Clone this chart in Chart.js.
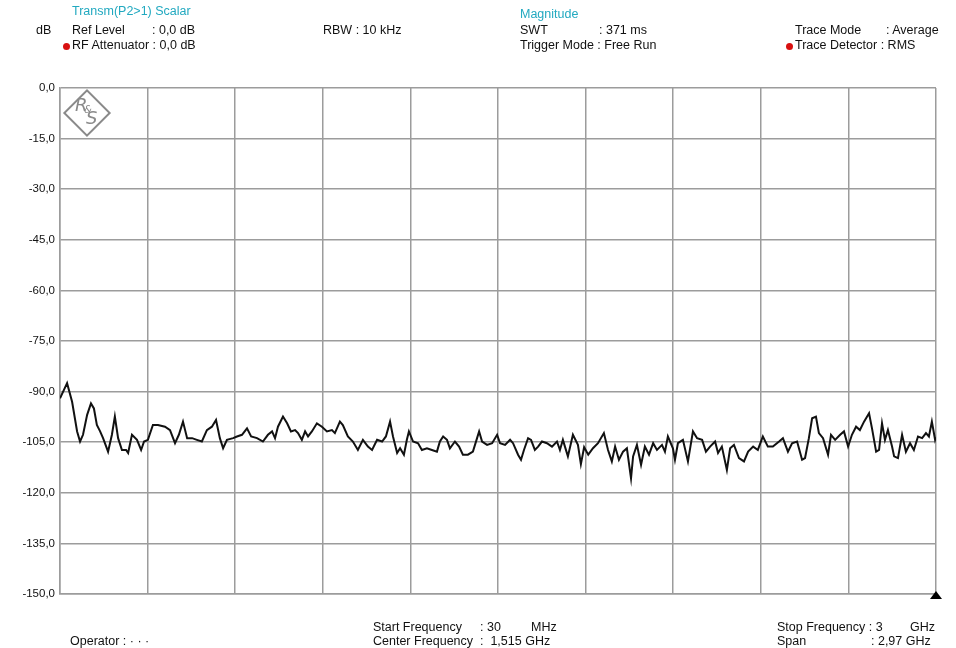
<!DOCTYPE html>
<html>
<head>
<meta charset="utf-8">
<script src="https://cdn.jsdelivr.net/npm/chart.js@4"></script>
<style>
  body { margin: 0; background: #fff; }
  #wrap { position: relative; width: 956px; height: 648px; font-family: "Liberation Sans", Arial, sans-serif; font-size: 12.5px; color: #111; }
  #wrap canvas { position: absolute; left: 0; top: 0; }
  .t { position: absolute; white-space: pre; line-height: 15px; }
  .cy { color: #22a9c0; }
  .dot { position: absolute; width: 7px; height: 7px; border-radius: 50%; background: #d81010; }
  #logo { position: absolute; left: 70px; top: 96px; width: 30px; height: 30px; border: 2px solid #8a8a8a; transform: rotate(45deg); }
  .lg { position: absolute; font: italic 18px "DejaVu Sans", sans-serif; color: #8a8a8a; line-height: 18px; }
  #marker { position: absolute; left: 930px; top: 591px; width: 0; height: 0; border-left: 6px solid transparent; border-right: 6px solid transparent; border-bottom: 8px solid #000; }
</style>
</head>
<body>
<div id="wrap">
  <canvas id="myChart" width="956" height="648"></canvas>

  <div class="t" style="left:36px;top:23px;">dB</div>
  <div class="t cy" style="left:72px;top:4px;">Transm(P2&gt;1) Scalar</div>
  <div class="t" style="left:72px;top:23px;">Ref Level</div>
  <div class="t" style="left:152px;top:23px;">: 0,0 dB</div>
  <div class="dot" style="left:63px;top:43px;"></div>
  <div class="t" style="left:72px;top:38px;">RF Attenuator : 0,0 dB</div>

  <div class="t" style="left:323px;top:23px;">RBW : 10 kHz</div>

  <div class="t cy" style="left:520px;top:7px;">Magnitude</div>
  <div class="t" style="left:520px;top:23px;">SWT</div>
  <div class="t" style="left:599px;top:23px;">: 371 ms</div>
  <div class="t" style="left:520px;top:38px;">Trigger Mode : Free Run</div>

  <div class="t" style="left:795px;top:23px;">Trace Mode</div>
  <div class="t" style="left:886px;top:23px;">: Average</div>
  <div class="dot" style="left:786px;top:43px;"></div>
  <div class="t" style="left:795px;top:38px;">Trace Detector : RMS</div>

  <div class="t" style="left:70px;top:634px;">Operator : · · ·</div>
  <div class="t" style="left:373px;top:620px;">Start Frequency</div>
  <div class="t" style="left:480px;top:620px;">: 30</div>
  <div class="t" style="left:531px;top:620px;">MHz</div>
  <div class="t" style="left:373px;top:634px;">Center Frequency</div>
  <div class="t" style="left:480px;top:634px;">:&nbsp; 1,515 GHz</div>
  <div class="t" style="left:777px;top:620px;">Stop Frequency : 3</div>
  <div class="t" style="left:910px;top:620px;">GHz</div>
  <div class="t" style="left:777px;top:634px;">Span</div>
  <div class="t" style="left:871px;top:634px;">: 2,97 GHz</div>

  <div id="logo"></div>
  <div class="lg" style="left:75px;top:96px;">R</div>
  <div class="lg" style="left:86px;top:109px;">S</div>
  <div class="lg" style="left:84px;top:105px;font-size:10px;line-height:10px;">&amp;</div>
  <div id="marker"></div>
</div>

<script>
// trace: frequency in MHz, level in dB
var freqs = [30, 54, 71, 88, 98, 108, 122, 135, 145, 155, 166, 176, 193, 206, 216, 227, 240, 254, 261, 274,
  291, 305, 315, 328, 345, 362, 386, 403, 420, 433, 447, 461, 478, 494, 511, 528, 545, 559, 572, 583,
  596, 617, 630, 647, 664, 678, 698, 718, 735, 749, 759, 769, 786, 800, 813, 827, 837, 850, 861, 871,
  884, 901, 918, 935, 952, 962, 979, 989, 1006, 1023, 1040, 1057, 1074, 1088, 1105, 1122, 1135, 1149, 1159, 1173,
  1183, 1196, 1206, 1213, 1227, 1244, 1257, 1274, 1291, 1308, 1318, 1329, 1342, 1352, 1369, 1383, 1396, 1413, 1430, 1444,
  1451, 1461, 1478, 1495, 1512, 1522, 1539, 1556, 1566, 1583, 1593, 1603, 1617, 1627, 1640, 1651, 1664, 1681, 1698, 1715,
  1725, 1735, 1752, 1769, 1786, 1796, 1807, 1821, 1837, 1854, 1874, 1888, 1901, 1912, 1925, 1939, 1952, 1966, 1973, 1986,
  2000, 2013, 2027, 2041, 2054, 2071, 2081, 2091, 2108, 2115, 2125, 2142, 2159, 2176, 2190, 2207, 2220, 2234, 2251, 2261,
  2274, 2291, 2302, 2315, 2332, 2349, 2363, 2380, 2396, 2413, 2430, 2447, 2468, 2481, 2498, 2512, 2529, 2546, 2556, 2569,
  2580, 2593, 2603, 2617, 2634, 2644, 2658, 2675, 2688, 2702, 2715, 2729, 2742, 2756, 2773, 2783, 2797, 2807, 2817, 2827,
  2837, 2851, 2858, 2871, 2885, 2898, 2912, 2925, 2939, 2953, 2966, 2976, 2986, 2997, 3000];

var levels = [-92, -87.5, -93, -101.8, -104.8, -102.8, -96.9, -93.5, -95, -99.9, -101.8, -103.8, -107.8, -102.8, -97.4, -103.8, -107.3, -107.3, -108.2, -102.8,
  -104.3, -107.3, -104.8, -104.3, -99.9, -99.9, -100.4, -101.4, -105.3, -102.8, -98.9, -103.8, -103.8, -104.3, -104.8, -101.4, -100.4, -98.4, -103.8, -106.8,
  -104.3, -103.8, -103.3, -102.8, -100.9, -103.3, -103.8, -104.8, -102.8, -101.8, -103.8, -100.4, -97.4, -99.4, -101.8, -101.4, -102.3, -104.3, -101.8, -103.3,
  -101.8, -99.4, -100.4, -101.8, -101.4, -102.3, -98.9, -99.9, -103.3, -104.8, -107.3, -104.3, -106.3, -107.3, -104.3, -104.8, -103.3, -98.9, -103.3, -108.2,
  -106.8, -108.7, -104.3, -101.8, -104.8, -105.3, -107.3, -106.8, -107.3, -107.8, -104.8, -103.3, -104.3, -106.8, -104.8, -106.3, -108.7, -108.7, -107.8, -103.8,
  -101.8, -104.8, -105.8, -105.3, -102.8, -105.3, -105.8, -104.3, -105.3, -108.7, -110.2, -107.3, -103.8, -104.3, -107.3, -106.3, -104.8, -105.3, -106.3, -104.8,
  -107.3, -104.3, -109.2, -102.8, -105.8, -111.5, -106.5, -108.7, -106.8, -105.3, -102.3, -107.3, -110.7, -106.3, -110.2, -107.8, -106.8, -115.7, -109.2, -105.8,
  -111.7, -106.3, -108.7, -105.3, -107.3, -105.8, -107.8, -103.3, -106.8, -110.2, -105.3, -104.3, -110.7, -101.8, -103.8, -104.3, -107.8, -106.3, -104.8, -108.2,
  -106.3, -113.2, -106.8, -105.8, -109.7, -110.7, -107.8, -106.3, -107.3, -103.3, -106.3, -106.3, -104.8, -103.8, -107.8, -105.3, -104.8, -110.2, -109.7, -103.8,
  -97.9, -97.4, -102.3, -103.8, -108.7, -102.8, -104.3, -102.8, -101.8, -106.3, -102.8, -100.4, -101.4, -98.9, -96.4, -100.9, -107.8, -107.3, -99.4, -104.3,
  -101.4, -106.3, -109.2, -109.7, -102.8, -107.8, -105.3, -107.3, -103.3, -103.8, -102.3, -103.3, -98.9, -104.3, -103.5];

// vertical grid: 10 divisions over the span
var gridFreqs = [30, 327, 624, 921, 1218, 1515, 1812, 2109, 2406, 2703, 3000];

var points = [];
for (var i = 0; i < freqs.length; i++) {
  points.push({ x: freqs[i], y: levels[i] });
}

var gridColor = "#9c9c9c";

var ctx = document.getElementById("myChart");
var myChart = new Chart(ctx, {
  type: "line",
  data: {
    datasets: [{
      data: points,
      borderColor: "#111",
      borderWidth: 2,
      pointRadius: 0,
      tension: 0,
      fill: false
    }]
  },
  options: {
    responsive: false,
    animation: false,
    layout: { padding: { top: 88, right: 20, bottom: 54, left: 0 } },
    plugins: { legend: { display: false }, tooltip: { enabled: false } },
    scales: {
      x: {
        type: "linear",
        min: 30,
        max: 3000,
        afterBuildTicks: function (s) {
          s.ticks = gridFreqs.map(function (v) { return { value: v }; });
        },
        afterFit: function (s) { s.height = 0; },
        ticks: { display: false },
        grid: { color: gridColor, lineWidth: 1.5, drawTicks: false },
        border: { color: gridColor, width: 1.5 }
      },
      y: {
        min: -150,
        max: 0,
        afterFit: function (s) { s.width = 60; },
        ticks: {
          stepSize: 15,
          padding: 5,
          color: "#111",
          font: { family: "Liberation Sans", size: 11.5 },
          callback: function (v) { return v.toFixed(1).replace(".", ","); }
        },
        grid: { color: gridColor, lineWidth: 1.5, drawTicks: false },
        border: { color: gridColor, width: 1.5 }
      }
    }
  }
});
</script>
</body>
</html>
